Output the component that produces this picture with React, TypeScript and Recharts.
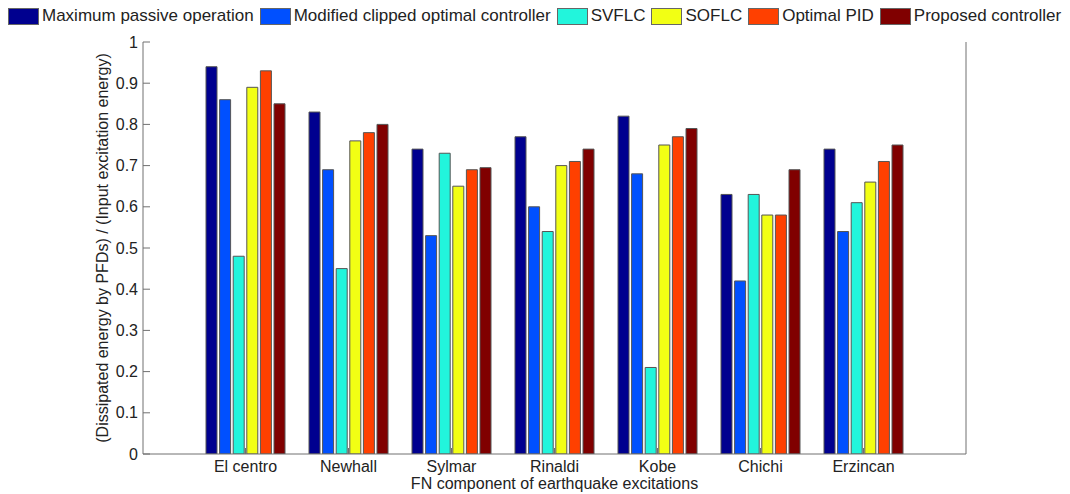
import { BarChart, Bar, XAxis, YAxis, Legend } from "recharts";

// Energy dissipation ratio per earthquake record.
const QUAKES = ["El centro", "Newhall", "Sylmar", "Rinaldi", "Kobe", "Chichi", "Erzincan"];
const MAX_PASSIVE = [0.94, 0.83, 0.74, 0.77, 0.82, 0.63, 0.74];
const MOD_CLIPPED = [0.86, 0.69, 0.53, 0.6, 0.68, 0.42, 0.54];
const SVFLC = [0.48, 0.45, 0.73, 0.54, 0.21, 0.63, 0.61];
const SOFLC = [0.89, 0.76, 0.65, 0.7, 0.75, 0.58, 0.66];
const OPT_PID = [0.93, 0.78, 0.69, 0.71, 0.77, 0.58, 0.71];
const PROPOSED = [0.85, 0.8, 0.695, 0.74, 0.79, 0.69, 0.75];
const Y_TICKS = [0, 0.1, 0.2, 0.3, 0.4, 0.5, 0.6, 0.7, 0.8, 0.9, 1];

const SERIES = [
  { key: "maxPassive", label: "Maximum passive operation", color: "#00008f", values: MAX_PASSIVE },
  { key: "modClipped", label: "Modified clipped optimal controller", color: "#0050ff", values: MOD_CLIPPED },
  { key: "svflc", label: "SVFLC", color: "#22f5dc", values: SVFLC },
  { key: "soflc", label: "SOFLC", color: "#f2ff14", values: SOFLC },
  { key: "optPid", label: "Optimal PID", color: "#ff4000", values: OPT_PID },
  { key: "proposed", label: "Proposed controller", color: "#800000", values: PROPOSED },
];

const data = QUAKES.map((name, i) => {
  const row: Record<string, string | number> = { name };
  for (const s of SERIES) row[s.key] = s.values[i];
  return row;
});

const FONT = "'Liberation Sans', Arial, sans-serif";
const AXIS = "#707070";
const INK = "#222";

function LegendRow() {
  return (
    <div
      style={{
        display: "flex",
        alignItems: "center",
        height: 24,
        paddingLeft: 8,
        fontFamily: FONT,
        fontSize: 17,
        color: INK,
        whiteSpace: "nowrap",
      }}
    >
      {SERIES.map((s) => (
        <span key={s.key} style={{ display: "inline-flex", alignItems: "center", marginRight: 6 }}>
          <span
            style={{
              display: "inline-block",
              width: 29,
              height: 15,
              background: s.color,
              border: "1px solid #666",
              marginRight: 3,
            }}
          />
          {s.label}
        </span>
      ))}
    </div>
  );
}

function YLabel({ viewBox }: any) {
  const cx = viewBox.x + 102;
  const cy = viewBox.y + viewBox.height / 2;
  return (
    <text
      x={cx}
      y={cy}
      transform={`rotate(-90 ${cx} ${cy})`}
      textAnchor="middle"
      dominantBaseline="central"
      fontFamily={FONT}
      fontSize={16}
      fill={INK}
    >
      (Dissipated energy by PFDs) / (Input excitation energy)
    </text>
  );
}

function XLabel({ viewBox }: any) {
  const cx = viewBox.x + viewBox.width / 2;
  return (
    <text
      x={cx}
      y={viewBox.y + viewBox.height - 5}
      textAnchor="middle"
      fontFamily={FONT}
      fontSize={16}
      fill={INK}
    >
      FN component of earthquake excitations
    </text>
  );
}

export default function App() {
  return (
    <div
      style={{
        position: "absolute",
        top: 0,
        left: 0,
        width: 1070,
        height: 494,
        overflow: "visible",
        background: "#fff",
      }}
    >
      <BarChart
        width={1070}
        height={494}
        data={data}
        margin={{ top: 18, right: 100, bottom: 0, left: 0 }}
        barSize={11}
        barGap={2.6}
        style={{ overflow: "visible" }}
      >
        <Legend
          verticalAlign="top"
          align="left"
          content={() => <LegendRow />}
          wrapperStyle={{ top: 4, left: 0 }}
        />
        <XAxis
          dataKey="name"
          padding={{ left: 51, right: 51 }}
          height={40}
          axisLine={{ stroke: AXIS }}
          tickLine={{ stroke: AXIS }}
          tickSize={-6}
          tickMargin={13}
          tick={{ fontSize: 16, fill: INK, fontFamily: FONT }}
          interval={0}
          label={{ content: XLabel }}
        />
        <XAxis
          xAxisId="top"
          dataKey="name"
          orientation="top"
          padding={{ left: 51, right: 51 }}
          height={0}
          axisLine={{ stroke: AXIS }}
          tickLine={{ stroke: AXIS }}
          tickSize={-6}
          tick={false}
          interval={0}
        />
        <YAxis
          domain={[0, 1]}
          ticks={Y_TICKS}
          width={143}
          axisLine={{ stroke: AXIS }}
          tickLine={{ stroke: AXIS }}
          tickSize={-7}
          tickMargin={12}
          tick={{ fontSize: 16, fill: INK, fontFamily: FONT }}
          allowDataOverflow
          label={{ content: YLabel }}
        />
        <YAxis
          yAxisId="right"
          orientation="right"
          domain={[0, 1]}
          ticks={Y_TICKS}
          width={4}
          axisLine={{ stroke: AXIS }}
          tickLine={{ stroke: AXIS }}
          tickSize={-7}
          tick={false}
          allowDataOverflow
        />
        {SERIES.map((s) => (
          <Bar
            key={s.key}
            dataKey={s.key}
            name={s.label}
            fill={s.color}
            stroke="#555"
            strokeWidth={1}
            isAnimationActive={false}
          />
        ))}
      </BarChart>
    </div>
  );
}
